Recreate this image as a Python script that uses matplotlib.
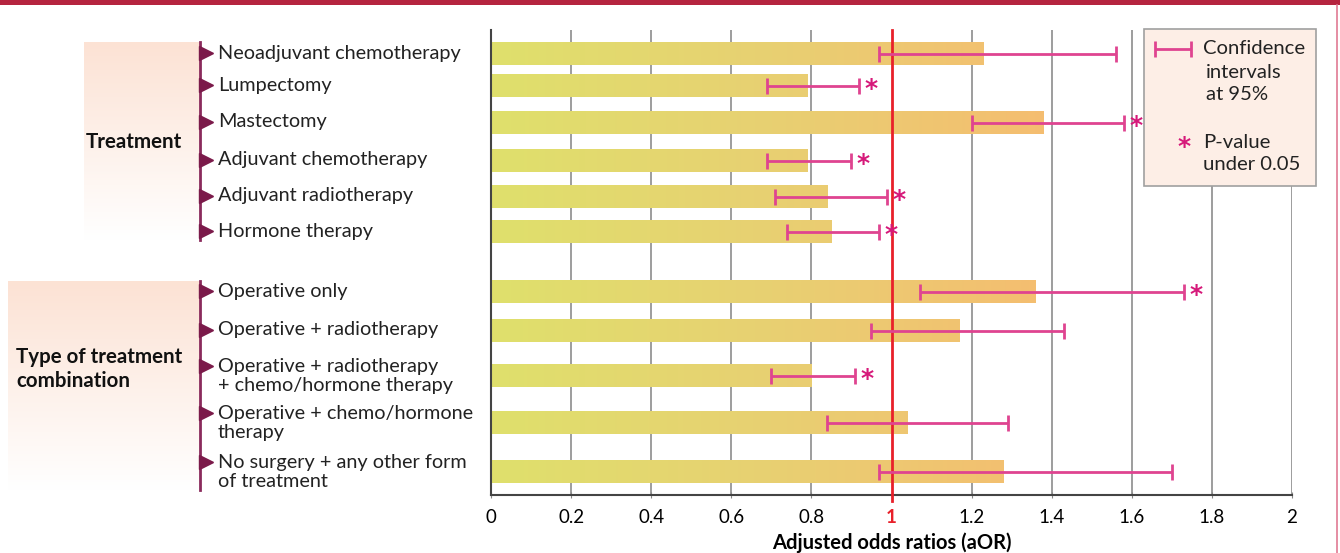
import numpy as np
import matplotlib
matplotlib.use('Agg')
import matplotlib.pyplot as plt
from matplotlib.colors import LinearSegmentedColormap
from matplotlib.patches import Rectangle

# Data
labels = ['Neoadjuvant chemotherapy', 'Lumpectomy', 'Mastectomy',
          'Adjuvant chemotherapy', 'Adjuvant radiotherapy', 'Hormone therapy',
          'Operative only', 'Operative + radiotherapy',
          'Operative + radiotherapy\n+ chemo/hormone therapy',
          'Operative + chemo/hormone\ntherapy',
          'No surgery + any other form\nof treatment']
aor = [1.23, 0.79, 1.38, 0.79, 0.84, 0.85, 1.36, 1.17, 0.80, 1.04, 1.28]
ci_low = [0.97, 0.69, 1.20, 0.69, 0.71, 0.74, 1.07, 0.95, 0.70, 0.84, 0.97]
ci_high = [1.56, 0.92, 1.58, 0.90, 0.99, 0.97, 1.73, 1.43, 0.91, 1.29, 1.70]
significant = [False, True, True, True, True, True, True, False, True, False, False]
groups = ['Treatment', 'Type of treatment\ncombination']
xticks = [0, 0.2, 0.4, 0.6, 0.8, 1, 1.2, 1.4, 1.6, 1.8, 2]
xticklabels = ['0', '0.2', '0.4', '0.6', '0.8', '1', '1.2', '1.4', '1.6', '1.8', '2']

# layout (pixel rows of the original figure)
row_y = [54, 86, 123, 161, 197, 232, 292, 331, 376, 423, 472]
W, H = 1340, 553
plt.rcParams['font.family'] = ['Lato', 'DejaVu Sans']
LAB_FS = 14.3

fig = plt.figure(figsize=(W / 100, H / 100), dpi=100)

# overlay axes in pixel coordinates for decorations
deco = fig.add_axes([0, 0, 1, 1])
deco.axis('off')

# top band and right border
deco.add_patch(Rectangle((0, 0), W, 5, color='#b5243f', lw=0))
deco.plot([1336.5, 1336.5], [5, H], color='#e07a93', lw=1.2)

# group boxes with vertical gradient
box_cmap = LinearSegmentedColormap.from_list('box', ['#fce2d4', '#ffffff'])
grad = np.linspace(0, 1, 256).reshape(-1, 1)
deco.imshow(grad, extent=(84, 200, 240, 42), cmap=box_cmap, aspect='auto', zorder=1)
deco.imshow(grad, extent=(8, 200, 490, 281), cmap=box_cmap, aspect='auto', zorder=1)
deco.set_xlim(0, W)
deco.set_ylim(H, 0)

deco.plot([200, 200], [42, 240], color='#8a2a5c', lw=2, zorder=2)
deco.plot([200, 200], [281, 490], color='#8a2a5c', lw=2, zorder=2)

deco.text(86, 142, groups[0], fontsize=14.8, fontweight='bold', va='center', ha='left', color='#111111')
deco.text(16, 369, groups[1], fontsize=14.8, fontweight='bold', va='center', ha='left',
          color='#111111', linespacing=1.2)

for lab, y in zip(labels, row_y):
    two = '\n' in lab
    ay = y - 10 if two else y - 1
    deco.plot(206, ay, marker='>', color='#7b1a4a', markersize=10, zorder=3, clip_on=False)
    deco.text(218, y if two else y - 1, lab, fontsize=LAB_FS, va='center', ha='left',
              color='#222222', linespacing=1.08)

# main axes
ax = fig.add_axes([491 / W, (H - 495) / H, 801 / W, 465 / H])
ax.patch.set_alpha(0)

bar_cmap = LinearSegmentedColormap.from_list('bar', ['#dfe06c', '#e8d072', '#f5bd70'])
bar_h = 23
for v, y in zip(aor, row_y):
    seg = np.linspace(0, v / 1.4, 256).reshape(1, -1)
    ax.imshow(seg, extent=(0, v, y + bar_h / 2, y - bar_h / 2), cmap=bar_cmap,
              vmin=0, vmax=1, aspect='auto', zorder=2, interpolation='bilinear')
ax.set_xlim(0, 2)
ax.set_ylim(495, 30)

for x in xticks[1:]:
    if x == 1:
        continue
    ax.axvline(x, color='#8c8c8c', lw=1.2, zorder=1)
ax.axvline(1, color='#e8202a', lw=2, zorder=4, ymin=-0.012, clip_on=False)

err_lo = np.array(aor) - np.array(ci_low)
err_hi = np.array(ci_high) - np.array(aor)
ax.errorbar(aor, row_y, xerr=[err_lo, err_hi], fmt='none', ecolor='#df4490',
            elinewidth=2, capsize=6, capthick=2, zorder=5)
for hi, y, s in zip(ci_high, row_y, significant):
    if s:
        ax.text(hi + 0.03, y + 3, '*', color='#d6197a', fontsize=18, fontweight='bold',
                ha='center', va='center', family='DejaVu Sans', zorder=6)

ax.set_xticks(xticks)
ax.set_xticklabels(xticklabels, fontsize=13.5)
ax.get_xticklabels()[5].set_color('#e8202a')
ax.get_xticklabels()[5].set_fontweight('bold')
ax.tick_params(axis='x', length=4, direction='inout', color='#888888', pad=8)
ax.set_yticks([])
for s in ['top', 'right']:
    ax.spines[s].set_visible(False)
for s in ['left', 'bottom']:
    ax.spines[s].set_color('#444444')
    ax.spines[s].set_linewidth(1.5)
ax.set_xlabel('Adjusted odds ratios (aOR)', fontsize=14.5, fontweight='bold', labelpad=5)

# legend box
leg = fig.add_axes([0, 0, 1, 1])
leg.set_xlim(0, W)
leg.set_ylim(H, 0)
leg.axis('off')
leg.patch.set_alpha(0)
leg.add_patch(Rectangle((1144, 29), 172, 157, facecolor='#fdeee6', edgecolor='#a0a0a0', lw=1.2))
leg.errorbar([1173], [49], xerr=[[18], [18]], fmt='none', ecolor='#df4490',
             elinewidth=2, capsize=6, capthick=2)
leg.text(1203, 49, 'Confidence', fontsize=LAB_FS + 0.3, va='center', color='#222222')
leg.text(1206, 72, 'intervals', fontsize=LAB_FS + 0.3, va='center', color='#222222')
leg.text(1206, 95, 'at 95%', fontsize=LAB_FS + 0.3, va='center', color='#222222')
leg.text(1184, 147, '*', fontsize=18, fontweight='bold', color='#d6197a', ha='center',
         va='center', family='DejaVu Sans')
leg.text(1203, 143, 'P-value', fontsize=LAB_FS + 0.3, va='center', color='#222222')
leg.text(1203, 164, 'under 0.05', fontsize=LAB_FS + 0.3, va='center', color='#222222')

fig.savefig('out.png', dpi=100)
